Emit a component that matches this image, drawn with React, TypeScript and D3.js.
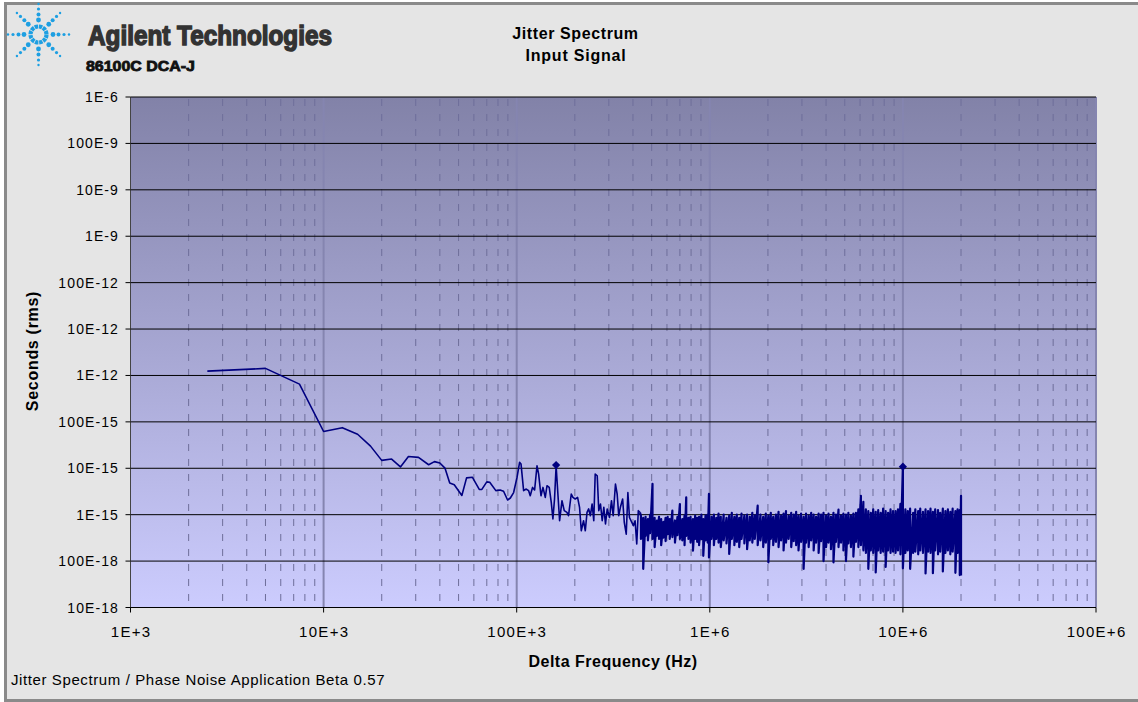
import React from 'react';
import * as d3 from 'd3';

// ---- data ----
const traceFreqHz = [
  2500, 5000, 7500, 10000, 12500, 15000, 17500, 20000, 22500, 25000, 27500, 31000, 35000, 37500, 40000,
  42500, 45000, 47500, 52000, 55000, 59000, 64000, 66000, 70000, 72500, 78000, 82000, 85500, 89700, 92700,
  96400, 100400, 103500, 105300, 108600, 112100, 115200, 117500, 120800, 123800, 127400, 129900, 133600,
  136800, 140600, 143500, 147400, 151000, 154000, 157000, 160000, 166800, 171600, 176300, 182000, 185500,
  191700, 195500, 201000, 206700, 211600, 216000, 221900, 226600, 231300, 235900, 240700, 245800, 250700,
  255000, 261200, 266100, 271600, 277200, 282600, 288300, 294300, 302500, 309700, 316000, 324700, 331300,
  337600, 344300, 353700, 360700, 369200, 376500, 383700, 394600, 402200, 410300, 418500, 426400, 434700,
];
const traceJitterFs = [
  1240, 1420, 650, 62, 75, 54, 30, 14.8, 15.8, 10.7, 18, 17.2, 11.9, 13.9, 13,
  10.1, 4.8, 4.4, 2.6, 6.2, 6.4, 3.5, 3.5, 5.1, 5.0, 3.3, 3.4, 3.2, 2.07, 2.29,
  3.0, 6.35, 13.4, 12.3, 3.3, 3.57, 3.3, 2.56, 3.87, 3.4, 11.3, 7.5, 2.56,
  3.87, 2.36, 4.2, 3.87, 1.84, 0.81, 2.18, 11.2, 0.74, 2.0, 1.22, 1.12, 0.95,
  2.79, 2.36, 2.18, 2.36, 1.44, 0.45, 0.74, 0.45, 1.12, 1.33, 0.95, 1.7, 0.74,
  7.5, 6.9, 1.22, 1.7, 0.74, 1.44, 0.63, 1.33, 0.87, 2.0, 0.95, 4.58, 2.79,
  0.95, 1.44, 2.18, 0.68, 0.38, 3.0, 0.87, 0.68, 0.58, 0.74, 0.234, 1.22, 1.12,
];
// dense part of the spectrum: per column, the upper and lower excursion
const bandFreqKHz = [
  440, 452, 465, 478, 491, 505, 518, 532, 546, 560, 575, 590, 605, 620, 640, 660, 680, 700, 720, 740, 755,
  775, 795, 818, 840, 860, 880, 905, 925, 950, 975, 990,
  1020, 1050, 1080, 1110, 1140, 1180, 1220, 1260, 1300, 1340, 1380, 1420, 1460, 1510, 1560, 1610, 1660,
  1710, 1770, 1830, 1890, 1950, 2010, 2070, 2130, 2200, 2270, 2340, 2410, 2480, 2560, 2640, 2720, 2800,
  2880, 2970, 3060, 3150, 3250, 3350, 3450, 3550, 3660, 3770, 3880, 4000, 4120, 4240, 4370, 4500, 4640,
  4780, 4920, 5070, 5220, 5380, 5540, 5710, 5880, 6060, 6240, 6430, 6620, 6820, 7020, 7230, 7450, 7670,
  7900, 8140, 8380, 8630, 8890, 9160, 9430, 9710, 10000, 10300, 10600, 10900, 11300, 11600, 12000, 12300,
  12700, 13100, 13500, 13900, 14300, 14700, 15200, 15600, 16100, 16600, 17100, 17600, 18100, 18700, 19200,
  19700, 20000,
];
const bandHighFs = [
  0.95, 0.85, 0.9, 0.8, 1.0, 4.6, 0.85, 0.75, 0.9, 0.8, 0.7, 0.85, 0.9, 0.8, 1.22, 0.75, 0.9, 1.7, 0.8, 0.95, 2.36,
  0.85, 0.9, 0.8, 0.95, 0.85, 0.9, 1.0, 0.8, 0.95, 1.0, 2.8,
  0.9, 1.0, 0.85, 1.05, 0.9, 1.0, 0.85, 0.95, 1.1, 0.9, 1.0, 0.85, 1.05, 0.95, 1.0, 0.9, 1.1,
  0.95, 1.56, 1.0, 0.9, 1.05, 0.95, 1.1, 0.9, 1.0, 1.15, 0.95, 1.05, 1.2, 0.95, 1.1, 1.0, 1.15,
  0.95, 1.05, 0.9, 1.05, 0.95, 1.1, 1.0, 0.9, 1.05, 1.0, 1.1, 0.95, 1.05, 0.9, 1.1, 1.0, 1.28,
  0.95, 1.05, 1.0, 1.1, 0.95, 1.05, 1.1, 1.3, 2.56, 1.9, 1.3, 1.2, 1.1, 1.3, 1.15, 1.25, 1.1,
  1.35, 1.2, 1.1, 1.3, 1.2, 1.2, 1.3, 1.72, 10.8, 1.3, 1.2, 1.35, 1.1, 1.3, 1.2, 1.35,
  1.15, 1.3, 1.2, 1.35, 1.15, 1.3, 1.25, 1.1, 1.35, 1.2, 1.3, 1.15, 1.35, 1.2, 1.3,
  1.25, 2.56,
];
const bandLowFs = [
  0.3, 0.068, 0.35, 0.28, 0.4, 0.3, 0.2, 0.35, 0.3, 0.22, 0.32, 0.27, 0.38, 0.3, 0.33, 0.25, 0.36, 0.3, 0.28, 0.22, 0.35,
  0.3, 0.25, 0.168, 0.3, 0.26, 0.22, 0.3, 0.13, 0.28, 0.25, 0.12,
  0.3, 0.22, 0.3, 0.25, 0.2, 0.28, 0.24, 0.142, 0.3, 0.22, 0.26, 0.2, 0.3, 0.24, 0.18, 0.28, 0.25,
  0.3, 0.22, 0.28, 0.2, 0.25, 0.094, 0.3, 0.22, 0.26, 0.2, 0.28, 0.17, 0.25, 0.3, 0.2, 0.27, 0.22,
  0.17, 0.26, 0.068, 0.25, 0.2, 0.28, 0.17, 0.25, 0.15, 0.27, 0.1, 0.2, 0.25, 0.18, 0.094, 0.26, 0.2,
  0.25, 0.17, 0.1, 0.24, 0.2, 0.125, 0.26, 0.2, 0.22, 0.17, 0.15, 0.068, 0.17, 0.15, 0.057, 0.17, 0.15,
  0.16, 0.075, 0.17, 0.15, 0.16, 0.15, 0.17, 0.14, 0.07, 0.15, 0.17, 0.068, 0.15, 0.16, 0.14, 0.17,
  0.15, 0.054, 0.16, 0.15, 0.055, 0.17, 0.14, 0.16, 0.06, 0.15, 0.17, 0.14, 0.16, 0.056, 0.15,
  0.05, 0.049,
];
const spurFreqHz = [160000, 10000000];
const spurJitterFs = [11.7, 10.8];

const xTickValues = [1e3, 1e4, 1e5, 1e6, 1e7, 1e8];
const xTickLabels = ['1E+3', '10E+3', '100E+3', '1E+6', '10E+6', '100E+6'];
const yTickValues = [1e-17, 1e-16, 1e-15, 1e-14, 1e-13, 1e-12, 1e-11, 1e-10, 1e-9, 1e-8, 1e-7, 1e-6];
const yTickLabels = ['10E-18', '100E-18', '1E-15', '10E-15', '100E-15', '1E-12', '10E-12', '100E-12', '1E-9', '10E-9', '100E-9', '1E-6'];

const W = 1138;
const H = 702;
const PL = 130.5, PR = 1096, PT = 97, PB = 607.5;
const FONT = '"Liberation Sans", Arial, sans-serif';

function Logo({ cx, cy }: { cx: number; cy: number }) {
  const blue = '#1d9fe2';
  const rays = d3.range(8).map((i) => (i * Math.PI) / 4);
  const dots = [
    { r: 14.5, s: 2.4 },
    { r: 20, s: 2.0 },
    { r: 25.5, s: 1.6 },
    { r: 30.5, s: 1.2 },
  ];
  return (
    <g>
      <circle cx={cx} cy={cy} r={8} fill="none" stroke={blue} strokeWidth={4.2} strokeDasharray="3.4 0.8" />
      {rays.map((a, i) =>
        dots.map((d, j) => (
          <circle key={`${i}-${j}`} cx={cx + Math.cos(a) * d.r} cy={cy + Math.sin(a) * d.r} r={d.s} fill={blue} />
        ))
      )}
    </g>
  );
}

export default function App() {
  const x = d3.scaleLog().domain([1e3, 1e8]).range([PL, PR]);
  const y = d3.scaleLog().domain([1e-17, 1e-6]).range([PB, PT]);

  const tracePts: [number, number][] = traceFreqHz.map((f, i) => [f, traceJitterFs[i] * 1e-15]);
  const bandPts: [number, number][] = [tracePts[tracePts.length - 1]];
  bandFreqKHz.forEach((k, i) => {
    bandPts.push([k * 1e3, bandHighFs[i] * 1e-15]);
    bandPts.push([k * 1e3, bandLowFs[i] * 1e-15]);
  });
  const line = d3
    .line<[number, number]>()
    .x((d) => x(d[0]))
    .y((d) => y(d[1]));

  const isMajor = (t: number) => Math.abs(Math.log10(t) - Math.round(Math.log10(t))) < 1e-9;
  const minor = x.ticks().filter((t) => !isMajor(t));
  const majorInner = xTickValues.filter((v) => v > 1e3 && v < 1e8);

  const diamond = d3.symbol().type(d3.symbolSquare).size(34)() as string;

  return (
    <svg width={W} height={H} style={{ position: 'absolute', left: 0, top: 0 }} fontFamily={FONT}>
      <defs>
        <linearGradient id="plotbg" x1="0" y1="0" x2="0" y2="1">
          <stop offset="0" stopColor="#8282a8" />
          <stop offset="1" stopColor="#ccccfe" />
        </linearGradient>
      </defs>
      <rect x={0} y={0} width={W} height={H} fill="#ffffff" />
      <rect x={5.5} y={3.5} width={1140} height={697} fill="#e5e5e5" stroke="#8a8a8a" strokeWidth={3} />

      <Logo cx={38.5} cy={34.5} />
      <text x={88} y={45} fontSize={28} fontWeight="bold" fill="#333333" stroke="#333333" strokeWidth={1.5}
        textLength={244} lengthAdjust="spacingAndGlyphs">Agilent Technologies</text>
      <text x={86} y={70.5} fontSize={14.5} fontWeight="bold" fill="#111111" stroke="#111111" strokeWidth={0.8}
        textLength={109} lengthAdjust="spacingAndGlyphs">86100C DCA-J</text>

      <text x={575.5} y={38.5} fontSize={16} fontWeight="bold" textAnchor="middle" fill="#000" letterSpacing={0.6}>Jitter Spectrum</text>
      <text x={576} y={61} fontSize={16} fontWeight="bold" textAnchor="middle" fill="#000" letterSpacing={0.8}>Input Signal</text>

      {/* plot area */}
      <rect x={PL} y={PT} width={PR - PL} height={PB - PT} fill="url(#plotbg)" />
      {minor.map((t) => (
        <line key={`m${t}`} x1={x(t)} x2={x(t)} y1={PT} y2={PB} stroke="#6e6e9a" strokeWidth={1}
          strokeDasharray="7 8" strokeDashoffset={-2} />
      ))}
      {majorInner.map((t) => (
        <line key={`M${t}`} x1={x(t)} x2={x(t)} y1={PT} y2={PB} stroke="#8585b0" strokeWidth={2} />
      ))}
      <line x1={PR} x2={PR} y1={PT} y2={PB} stroke="#8585b0" strokeWidth={2} />
      {yTickValues.map((v) => (
        <line key={`h${v}`} x1={PL} x2={PR} y1={y(v)} y2={y(v)} stroke="#000" strokeWidth={1} />
      ))}

      {/* axes */}
      <line x1={PL} x2={PL} y1={PT} y2={PB} stroke="#444" strokeWidth={1} />
      <line x1={PL} x2={PR} y1={PB} y2={PB} stroke="#000" strokeWidth={1} />
      {yTickValues.map((v, i) => (
        <g key={`yt${v}`}>
          <line x1={PL - 5} x2={PL} y1={y(v)} y2={y(v)} stroke="#000" />
          <text x={119} y={y(v)} dy="0.36em" fontSize={14} textAnchor="end" fill="#000" letterSpacing={1.1}>
            {yTickLabels[i]}
          </text>
        </g>
      ))}
      {xTickValues.map((v, i) => (
        <g key={`xt${v}`}>
          <line x1={x(v)} x2={x(v)} y1={PB} y2={PB + 5} stroke="#000" />
          <text x={x(v) + 0.6} y={636.5} fontSize={15} textAnchor="middle" fill="#000" letterSpacing={1.3}>
            {xTickLabels[i]}
          </text>
        </g>
      ))}

      {/* trace */}
      <path d={line(tracePts) || ''} fill="none" stroke="#000080" strokeWidth={1.6} strokeLinejoin="round" />
      <path d={line(bandPts) || ''} fill="none" stroke="#000080" strokeWidth={2.2} strokeLinejoin="round" />
      {spurFreqHz.map((f, i) => (
        <path key={`s${f}`} d={diamond} transform={`translate(${x(f)},${y(spurJitterFs[i] * 1e-15)}) rotate(45)`}
          fill="#000080" />
      ))}

      <text transform="translate(38,351) rotate(-90)" fontSize={16} fontWeight="bold" textAnchor="middle" fill="#000" letterSpacing={0.7}>
        Seconds (rms)
      </text>
      <text x={613} y={667} fontSize={16} fontWeight="bold" textAnchor="middle" fill="#000" letterSpacing={0.5}>
        Delta Frequency (Hz)
      </text>
      <text x={11} y={685} fontSize={15} fill="#000" letterSpacing={0.6}>Jitter Spectrum / Phase Noise Application Beta 0.57</text>
    </svg>
  );
}
